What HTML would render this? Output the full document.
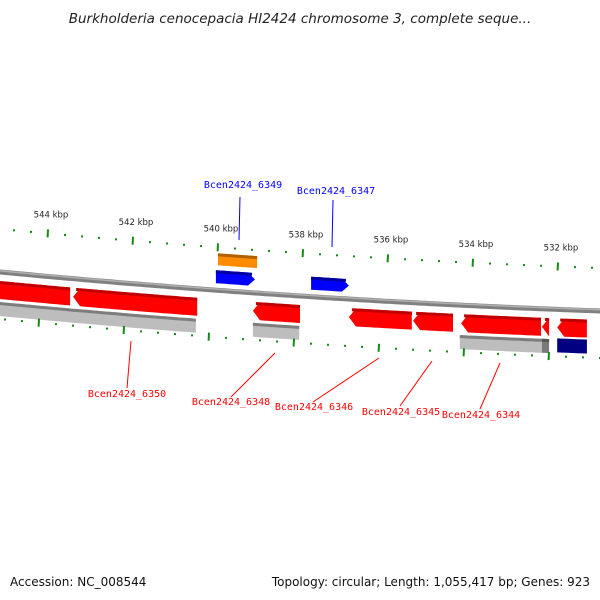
<!DOCTYPE html>
<html><head><meta charset="utf-8"><style>
body{margin:0;background:#fff}svg{display:block}
.t{font-family:"DejaVu Sans","Liberation Sans",sans-serif}
.m{font-family:"DejaVu Sans Mono","Liberation Mono",monospace;font-size:10px}
</style></head><body>
<svg id="c" width="600" height="600" viewBox="0 0 600 600">
<text class="t" x="300" y="23" text-anchor="middle" font-size="13.5" font-style="italic" fill="#222">Burkholderia cenocepacia HI2424 chromosome 3, complete seque...</text>
<text class="t" x="10" y="586" font-size="12" fill="#111">Accession: NC_008544</text>
<text class="t" x="590" y="586" font-size="12" text-anchor="end" fill="#111">Topology: circular; Length: 1,055,417 bp; Genes: 923</text>
</svg>
<script>
const majorTicks=[544,542,540,538,536,534,532];
const tickLabels=["544 kbp","542 kbp","540 kbp","538 kbp","536 kbp","534 kbp","532 kbp"];
const redS=[545.2,543.41,539.18,536.92,535.41,534.28,532.38,532.02];
const redE=[543.48,540.49,538.07,535.44,534.47,532.40,532.21,531.32];
const redHead=[0,1,1,1,1,1,1,1];
const blueS=[540.05,537.81];const blueE=[539.13,536.92];
const orangeS=[540.0];const orangeE=[539.08];
const grayS=[545.2,543.53,539.18,534.31,532.38];const grayE=[543.53,540.52,538.09,532.38,532.21];
const grayCol=["#bdbdbd","#bdbdbd","#bdbdbd","#bdbdbd","#7a7a7a"];
const navyS=[532.02];const navyE=[531.32];
const labelNames=["Bcen2424_6349","Bcen2424_6347","Bcen2424_6350","Bcen2424_6348","Bcen2424_6346","Bcen2424_6345","Bcen2424_6344"];
const labelPos=[[243,188],[336,194],[127,397],[231,405],[314,410],[401,415],[481,418]];
const labelLine=[[240,197,239,240],[333,200,332,247],[127,388,131,341],[231,397,275,353],[313,402,379,358],[400,406,432,361],[480,409,500,363]];
const labelStrandCol=["#0000ff","#0000ff","#ff0000","#ff0000","#ff0000","#ff0000","#ff0000"];

const NS="http://www.w3.org/2000/svg";const svg=document.getElementById('c');
function yc(x){return 272+0.095*x-0.00005*x*x;}
function fx(k){return 48+(544-k)*42.5;}
function tx(k,off){return 43.7+(544-k)*42.5-0.1*off;}
function mk(t,a){const e=document.createElementNS(NS,t);for(const k in a)e.setAttribute(k,a[k]);svg.appendChild(e);return e;}
let bp="";for(let x=-5;x<=605;x+=5){bp+=(x==-5?"M":"L")+x+","+yc(x).toFixed(1);}
let bb=mk('path',{d:bp,stroke:'#808080','stroke-width':5,fill:'none'});

let bb2=mk('path',{d:bp,stroke:'#b0b0b0','stroke-width':1.5,fill:'none',transform:'translate(0,-1.2)'});

function band(x1,x2,o1,o2,head){
  const h=7,pts=[];let a=x1,b=x2;
  if(head==-1)a=Math.min(x1+h,x2);if(head==1)b=Math.max(x2-h,x1);
  const n=Math.max(2,Math.ceil((b-a)/5));
  for(let i=0;i<=n;i++){const x=a+(b-a)*i/n;pts.push([x,yc(x)+o1]);}
  if(head==1){const xm=x2;pts.push([xm,yc(xm)+(o1+o2)/2]);}
  for(let i=n;i>=0;i--){const x=a+(b-a)*i/n;pts.push([x,yc(x)+o2]);}
  if(head==-1){pts.push([x1,yc(x1)+(o1+o2)/2]);}
  return pts.map(p=>p[0].toFixed(1)+","+p[1].toFixed(1)).join(" ");
}
function feat(s,e,o1,o2,head,col,dark,name){
  const x1=Math.min(fx(s),fx(e)),x2=Math.max(fx(s),fx(e));
  const p=mk('polygon',{points:band(x1,x2,o1,o2,head),fill:col});
  
  if(dark){const q=mk('polygon',{points:band(x1+(head==-1?3:0),x2-(head==1?3:0),o1,o1+3,0),fill:dark});
  }
}
redS.forEach((s,i)=>feat(s,redE[i],9,27,redHead[i]?-1:0,'#ff0000','#c00000','red-gene-'+i));
blueS.forEach((s,i)=>feat(s,blueE[i],-20,-7,1,'#0000ff','#0000a0','blue-gene-'+i));
orangeS.forEach((s,i)=>feat(s,orangeE[i],-37,-25,0,'#ff8c00','#b06000','orange-feature-'+i));
grayS.forEach((s,i)=>feat(s,grayE[i],30,44,0,grayCol[i],i==4?'#555':'#7d7d7d','gray-feature-'+i));
navyS.forEach((s,i)=>feat(s,navyE[i],29,43,0,'#000080',null,'navy-feature-'+i));
for(let k=545.2;k>=530.8;k-=0.4){
  const kk=Math.round(k*10)/10;const major=majorTicks.some(m=>Math.abs(m-kk)<0.01);
  [[-43,'upper'],[47,'lower']].forEach(([off,nm])=>{
    const x=tx(kk,off),y=yc(x)+off;if(x<-5||x>605)return;
    const l=mk('line',{x1:x,y1:y-(major?4:1),x2:x-(major?0.4:0),y2:y+(major?4:1),stroke:'#138a13','stroke-width':2});
    
  });
}
majorTicks.forEach((m,i)=>{const x=tx(m,-43)+3;const t=mk('text',{x:x,y:(yc(x)-59).toFixed(1),'text-anchor':'middle','font-size':8.5,fill:'#222',class:'t'});
  t.textContent=tickLabels[i];});
labelNames.forEach((n,i)=>{const L=labelLine[i];
  const l=mk('line',{x1:L[0],y1:L[1],x2:L[2],y2:L[3],stroke:labelStrandCol[i],'stroke-width':1});
  
  const t=mk('text',{x:labelPos[i][0],y:labelPos[i][1],'text-anchor':'middle',fill:labelStrandCol[i],class:'m'});
  t.textContent=n;});
</script>
</body></html>
